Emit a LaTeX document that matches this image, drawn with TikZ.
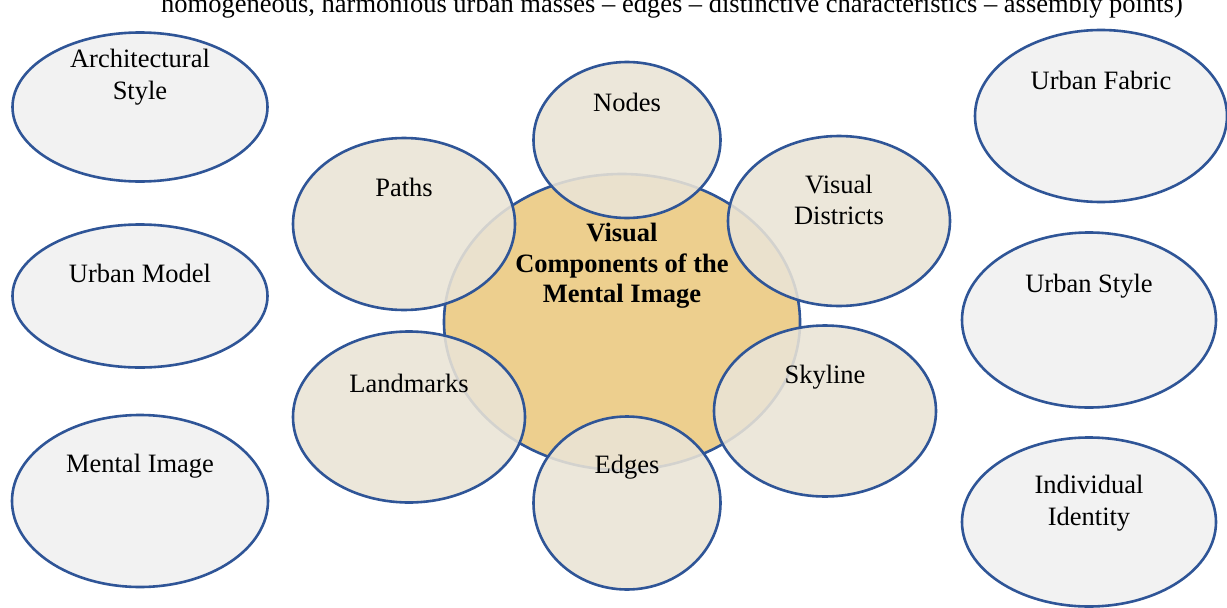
\documentclass[tikz,border=0pt]{standalone}
\usepackage{fontspec}
\setmainfont{Liberation Serif}
\usepackage{tikz}
\usetikzlibrary{positioning, shapes.geometric}
\usepackage{xcolor}
\definecolor{rim}{HTML}{2F5597}
\definecolor{hubfill}{HTML}{EDCF8E}
\definecolor{linen}{HTML}{EAE4D6}
\definecolor{pale}{HTML}{F2F2F2}

\begin{document}
\begin{tikzpicture}[
  x=1pt, y=-1pt,
  every node/.style={font=\fontsize{26.5}{31.5}\selectfont},
  hub/.style={ellipse, draw=rim, line width=2.6pt, fill=hubfill, inner sep=0pt},
  part/.style={ellipse, draw=rim, line width=2.6pt, fill=linen, fill opacity=0.88, draw opacity=1, inner sep=0pt},
  outer/.style={ellipse, draw=rim, line width=2.6pt, fill=pale, inner sep=0pt},
  lbl/.style={align=center, inner sep=0pt, text=black}
]
\useasboundingbox (0,0) rectangle (1227,608);
\clip (0,0) rectangle (1227,608);
\fill[white] (0,0) rectangle (1227,608);

% line left over from the text above
\node[lbl, anchor=base] (cut) at (672,12) {homogeneous, harmonious urban masses – edges – distinctive characteristics – assembly points)};

% left column
\node[outer, minimum width=255pt, minimum height=149pt] (arch) at (140,107) {};
\node[outer, minimum width=255pt, minimum height=143pt] (model) at (140,296) {};
\node[outer, minimum width=256pt, minimum height=172pt] (mental) at (140,501) {};
\node[lbl] (t-arch) at (140,77) {Architectural\\Style};
\node[lbl] (t-model) at (140,273) {Urban Model};
\node[lbl] (t-mental) at (140,466) {Mental Image};

% right column
\node[outer, minimum width=252pt, minimum height=172pt] (fabric) at (1101,116) {};
\node[outer, minimum width=254pt, minimum height=175pt] (ustyle) at (1089,320) {};
\node[outer, minimum width=254pt, minimum height=169pt] (ident) at (1089,522) {};
\node[lbl] (t-fabric) at (1101,80) {Urban Fabric};
\node[lbl] (t-ustyle) at (1089,286) {Urban Style};
\node[lbl] (t-ident) at (1089,503) {Individual\\Identity};

% centre and its parts
\node[hub, minimum width=356pt, minimum height=296pt] (core) at (622,322) {};
\node[part, minimum width=187pt, minimum height=156pt] (nodes) at (627,140) {};
\node[part, minimum width=222pt, minimum height=172pt] (paths) at (404,224) {};
\node[part, minimum width=222pt, minimum height=170pt] (districts) at (839,221) {};
\node[part, minimum width=232pt, minimum height=171pt] (landmarks) at (409,417) {};
\node[part, minimum width=222pt, minimum height=171pt] (skyline) at (825,411) {};
\node[part, minimum width=187pt, minimum height=173pt] (edges) at (627,503) {};

\node[lbl, font=\fontsize{26.5}{30.5}\selectfont\bfseries] (t-core) at (622,266) {Visual\\Components of the\\Mental Image};
\node[lbl] (t-nodes) at (627,102) {Nodes};
\node[lbl] (t-paths) at (404,187) {Paths};
\node[lbl] (t-districts) at (839,200) {Visual\\Districts};
\node[lbl] (t-landmarks) at (409,383) {Landmarks};
\node[lbl] (t-skyline) at (825,377) {Skyline};
\node[lbl] (t-edges) at (627,467) {Edges};
\end{tikzpicture}
\end{document}
